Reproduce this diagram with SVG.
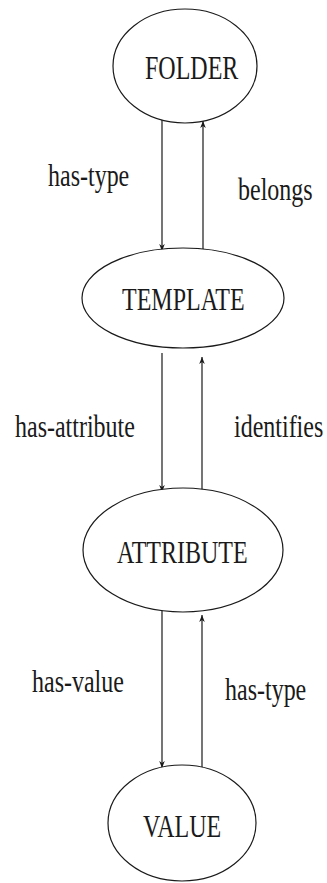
<svg xmlns="http://www.w3.org/2000/svg" width="327" height="883" viewBox="0 0 327 883">
  <style>
    .node ellipse { fill: #ffffff; stroke: #1a1a1a; stroke-width: 1.2; }
    .node text, .label { font-family: "Liberation Serif", "Times New Roman", serif; font-size: 24px; fill: #1a1a1a; }
    .edge line { stroke: #1a1a1a; stroke-width: 1.2; fill: none; }
  </style>
  <defs>
    <marker id="arrow" viewBox="0 0 10 10" refX="10" refY="5" markerWidth="7" markerHeight="7" orient="auto" markerUnits="userSpaceOnUse">
      <path d="M0,1 L10,5 L0,9 L3,5 Z" fill="#1a1a1a"/>
    </marker>
  </defs>
  <rect width="327" height="883" fill="#ffffff"/>

  <!-- connectors -->
  <g id="connectors" class="edge">
    <line x1="162" y1="118" x2="162" y2="251" marker-end="url(#arrow)"/>
    <line x1="203" y1="255" x2="203" y2="121" marker-end="url(#arrow)"/>
    <line x1="162" y1="353" x2="162" y2="492" marker-end="url(#arrow)"/>
    <line x1="202" y1="493" x2="202" y2="357" marker-end="url(#arrow)"/>
    <line x1="162" y1="607" x2="162" y2="768" marker-end="url(#arrow)"/>
    <line x1="202" y1="770" x2="202" y2="615" marker-end="url(#arrow)"/>
  </g>

  <!-- connector labels: tall, narrow serif lettering -->
  <g id="edge-labels">
    <text class="label" transform="translate(48,186) scale(1,1.35)">has-type</text>
    <text class="label" transform="translate(238,200) scale(1,1.35)">belongs</text>
    <text class="label" transform="translate(15,437) scale(1,1.35)">has-attribute</text>
    <text class="label" transform="translate(234,437) scale(1,1.35)">identifies</text>
    <text class="label" transform="translate(32,692) scale(1,1.35)">has-value</text>
    <text class="label" transform="translate(225,700) scale(1,1.35)">has-type</text>
  </g>

  <g id="folder" class="node">
    <ellipse cx="185" cy="66" rx="72" ry="57"/>
    <text transform="translate(145,79) scale(1,1.4)">FOLDER</text>
  </g>

  <g id="template" class="node">
    <ellipse cx="183" cy="298" rx="101" ry="50"/>
    <text transform="translate(122,310) scale(1,1.35)">TEMPLATE</text>
  </g>

  <g id="attribute" class="node">
    <ellipse cx="183" cy="550" rx="100" ry="62"/>
    <text transform="translate(117,563) scale(1,1.35)">ATTRIBUTE</text>
  </g>

  <g id="value" class="node">
    <ellipse cx="182" cy="823" rx="74" ry="58"/>
    <text transform="translate(143,837) scale(1,1.35)">VALUE</text>
  </g>
</svg>
